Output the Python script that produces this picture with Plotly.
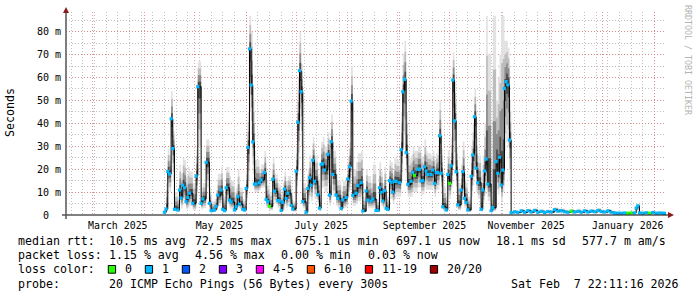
import plotly.graph_objects as go

# ---------------- data ----------------
dates = [
    # April 2025
    "2025-04-13", "2025-04-14", "2025-04-15", "2025-04-16", "2025-04-17", "2025-04-18", "2025-04-19",
    "2025-04-21", "2025-04-22", "2025-04-23", "2025-04-24", "2025-04-25", "2025-04-26", "2025-04-27",
    "2025-04-28", "2025-04-30",
    # May
    "2025-05-02", "2025-05-03", "2025-05-05", "2025-05-06", "2025-05-08", "2025-05-10", "2025-05-11",
    "2025-05-13", "2025-05-14", "2025-05-15", "2025-05-17", "2025-05-18", "2025-05-19", "2025-05-20",
    "2025-05-22", "2025-05-23", "2025-05-25", "2025-05-26", "2025-05-27", "2025-05-28", "2025-05-30",
    "2025-05-31",
    # June
    "2025-06-01", "2025-06-02", "2025-06-03", "2025-06-04", "2025-06-05", "2025-06-06", "2025-06-07",
    "2025-06-09", "2025-06-10", "2025-06-12", "2025-06-13", "2025-06-14", "2025-06-15", "2025-06-17",
    "2025-06-18", "2025-06-20", "2025-06-21", "2025-06-22", "2025-06-23", "2025-06-24", "2025-06-25",
    "2025-06-26", "2025-06-28", "2025-06-29",
    # July
    "2025-07-01", "2025-07-02", "2025-07-03", "2025-07-04", "2025-07-05", "2025-07-07", "2025-07-08",
    "2025-07-09", "2025-07-10", "2025-07-11", "2025-07-12", "2025-07-14", "2025-07-15", "2025-07-16",
    "2025-07-17", "2025-07-18", "2025-07-20", "2025-07-21", "2025-07-22", "2025-07-23", "2025-07-25",
    "2025-07-26", "2025-07-28", "2025-07-29", "2025-07-31",
    # August
    "2025-08-01", "2025-08-02", "2025-08-03", "2025-08-04", "2025-08-06", "2025-08-07", "2025-08-09",
    "2025-08-10", "2025-08-12", "2025-08-13", "2025-08-15", "2025-08-16", "2025-08-18", "2025-08-19",
    "2025-08-20", "2025-08-21", "2025-08-22", "2025-08-23", "2025-08-24", "2025-08-25", "2025-08-26",
    "2025-08-27", "2025-08-28", "2025-08-29", "2025-08-30",
    # September
    "2025-09-01", "2025-09-02", "2025-09-03", "2025-09-04", "2025-09-05", "2025-09-06", "2025-09-08",
    "2025-09-09", "2025-09-10", "2025-09-12", "2025-09-13", "2025-09-14", "2025-09-15", "2025-09-16",
    "2025-09-17", "2025-09-18", "2025-09-20", "2025-09-21", "2025-09-22", "2025-09-23", "2025-09-24",
    "2025-09-25", "2025-09-26", "2025-09-27", "2025-09-29", "2025-09-30",
    # October
    "2025-10-01", "2025-10-02", "2025-10-03", "2025-10-04", "2025-10-05", "2025-10-06", "2025-10-08",
    "2025-10-09", "2025-10-10", "2025-10-11", "2025-10-12", "2025-10-14", "2025-10-15", "2025-10-16",
    "2025-10-17", "2025-10-18", "2025-10-20", "2025-10-21", "2025-10-22", "2025-10-23", "2025-10-24",
    "2025-10-26", "2025-10-27", "2025-10-29", "2025-10-30", "2025-10-31",
    # November
    "2025-11-01", "2025-11-02", "2025-11-03", "2025-11-04", "2025-11-05", "2025-11-06", "2025-11-07",
    "2025-11-09", "2025-11-11", "2025-11-13", "2025-11-15", "2025-11-17", "2025-11-19", "2025-11-21",
    "2025-11-23", "2025-11-25", "2025-11-27", "2025-11-29",
    # December
    "2025-12-01", "2025-12-03", "2025-12-05", "2025-12-07", "2025-12-09", "2025-12-11", "2025-12-13",
    "2025-12-15", "2025-12-17", "2025-12-19", "2025-12-21", "2025-12-23", "2025-12-25", "2025-12-27",
    "2025-12-29", "2025-12-31",
    # January / February 2026
    "2026-01-02", "2026-01-04", "2026-01-06", "2026-01-08", "2026-01-10", "2026-01-12", "2026-01-14",
    "2026-01-16", "2026-01-18", "2026-01-20", "2026-01-21", "2026-01-22", "2026-01-23", "2026-01-25",
    "2026-01-27", "2026-01-29", "2026-01-31", "2026-02-02", "2026-02-04", "2026-02-06", "2026-02-07",
]

# median round-trip time, milliseconds
median_ms = [
    1.2, 2.6, 19, 17.9, 42, 29, 2.5,
    2.2, 10.9, 7.4, 13, 11.9, 5.8, 7.6,
    9.5, 5.1,
    17, 56, 5.1, 7, 23, 5.1, 1.9,
    2.2, 3.8, 8.7, 10.9, 2.5, 1.9, 11.9,
    6.5, 5.7, 2.2, 3.6, 8, 4.8, 2.5,
    2.2,
    11.6, 29.5, 72.5, 56.7, 31.9, 13.5, 13.5,
    14, 15.3, 18.5, 6.8, 5.8, 3.8, 15.6,
    10.4, 6.3, 6.2, 2.0, 5.5, 11.3, 7.2,
    9.5, 4.2, 2.6,
    19.1, 40.5, 63, 53.8, 5.8, 1.2, 11.6,
    16.2, 13, 23.9, 14.7, 8.9, 3.0, 22.1,
    22.4, 19.6, 26.5, 8.7, 32, 17.7, 8.7,
    7.3, 2.9, 6.6, 7.6,
    15.7, 21, 49.7, 8.6, 9.5, 12.8, 14.1,
    1.7, 10.5, 6.5, 6.1, 7, 2.0, 2.0,
    11.9, 9.9, 6.1, 10.6, 2.9, 2.5, 15,
    14.3, 10, 14.7, 14.7,
    14.1, 28.5, 53.8, 59.2, 27.2, 13.4, 14.7,
    18.5, 17.3, 20, 20, 14.8, 15, 21,
    19.2, 17.7, 17.7, 19.6, 13.8, 18.5, 18.5,
    34.6, 18.2, 3.6, 2.2, 17.7,
    13.8, 21.5, 58.9, 41.1, 18.9, 4.4, 10.9,
    18.9, 7.3, 5.5, 2.2, 16.9, 26.2, 42.9,
    20.4, 14.1, 2.5, 10.9, 19.2, 24.4, 13.5,
    1.9, 3.2, 23.3, 18.2, 25.2,
    13.1, 19.6, 55.2, 58.2, 56.8, 32.7, 1.0,
    1.4, 1.1, 1.8, 1.2, 1.9, 1.3, 2.0,
    1.2, 1.6, 1.1, 1.5,
    1.3, 2.3, 1.7, 1.9, 1.4, 1.2, 1.7,
    1.3, 1.6, 1.2, 1.8, 1.3, 1.7, 1.4,
    2.0, 1.5,
    1.3, 1.8, 1.2, 0.9, 0.8, 0.8, 0.9,
    0.8, 0.9, 0.9, 3.0, 4.0, 0.9, 0.8,
    1.0, 0.8, 1.1, 0.8, 0.9, 0.8, 0.7,
]

# upper edge of the smoke (slowest pings), milliseconds
smoke_hi_ms = [
    3, 14, 29, 26, 54, 37, 10,
    8, 22, 18, 25, 24, 16, 21,
    19, 14,
    29, 67, 12, 14, 33, 12, 6,
    7, 11, 18, 21, 9, 8, 21,
    17, 15, 10, 12, 20, 12, 7,
    6,
    20, 45, 87, 80, 50, 28, 24,
    20, 22, 28, 15, 13, 10, 25,
    18, 14, 13, 8, 14, 19, 15,
    17, 10, 6,
    30, 60, 80, 66, 14, 5, 20,
    26, 23, 34, 26, 18, 9, 32,
    34, 30, 36, 18, 44, 28, 18,
    15, 9, 15, 16,
    25, 32, 65, 20, 23, 27, 28,
    8, 20, 17, 14, 22, 7, 7,
    23, 19, 14, 21, 9, 8, 24,
    23, 18, 25, 24,
    22, 45, 70, 76, 45, 25, 26,
    30, 28, 30, 30, 26, 25, 33,
    28, 27, 26, 28, 24, 27, 29,
    50, 29, 12, 8, 28,
    24, 34, 71, 58, 30, 14, 22,
    32, 18, 14, 8, 30, 40, 55,
    34, 26, 9, 26, 40, 87, 70,
    8, 87, 50, 60, 70,
    87, 87, 76, 76, 73, 50, 1.6,
    2.2, 1.8, 2.6, 2.0, 2.7, 2.1, 2.9,
    2.0, 2.4, 1.9, 2.3,
    2.2, 3.4, 2.8, 2.8, 2.3, 2.0, 2.5,
    2.1, 2.5, 2.0, 2.7, 2.1, 2.6, 2.2,
    3.0, 2.4,
    2.0, 2.6, 1.9, 1.5, 1.3, 1.3, 1.4,
    1.3, 1.4, 1.4, 3.8, 4.8, 1.4, 1.3,
    1.5, 1.3, 1.6, 1.3, 1.4, 1.3, 1.2,
]

# lower edge of the smoke (fastest pings), milliseconds
smoke_lo_ms = [
    0.8, 1.5, 12, 10, 24, 15, 1.5,
    1.3, 5, 3, 6, 5, 2.5, 3,
    4, 2,
    8, 30, 2.5, 3, 12, 2, 1.2,
    1.3, 2, 4, 5, 1.5, 1.2, 5,
    3, 2.5, 1.3, 2, 4, 2.5, 1.5,
    1.3,
    6, 15, 45, 35, 18, 10, 10,
    11, 12, 12, 3, 3, 2, 8,
    5, 3, 3, 1.2, 2, 5, 3,
    4, 2, 1.4,
    10, 22, 40, 30, 3, 0.9, 5,
    8, 6, 12, 7, 4, 1.6, 12,
    12, 10, 14, 4, 16, 8, 4,
    3, 1.5, 3, 3.5,
    8, 11, 28, 4, 5, 6, 7,
    1.1, 5, 3, 3, 3, 1.2, 1.2,
    5, 4, 3, 5, 1.5, 1.4, 7,
    7, 5, 7, 8,
    8, 15, 30, 35, 15, 8, 8,
    10, 10, 12, 12, 9, 9, 12,
    11, 11, 11, 12, 8, 11, 11,
    17, 10, 2, 1.3, 8,
    7, 12, 32, 22, 10, 2, 5,
    9, 3, 2.5, 1.3, 8, 13, 22,
    10, 7, 1.4, 5, 9, 11, 6,
    1.2, 1.6, 11, 9, 12,
    6, 10, 28, 32, 30, 15, 0.7,
    0.8, 0.7, 0.9, 0.8, 1.0, 0.8, 1.0,
    0.8, 0.9, 0.7, 0.8,
    0.8, 1.1, 0.9, 1.0, 0.8, 0.8, 0.9,
    0.8, 0.9, 0.8, 0.9, 0.8, 0.9, 0.8,
    1.0, 0.8,
    0.8, 0.9, 0.8, 0.7, 0.6, 0.6, 0.7,
    0.6, 0.7, 0.7, 1.5, 2.0, 0.7, 0.6,
    0.7, 0.6, 0.7, 0.6, 0.7, 0.6, 0.6,
]

# lost pings (of 20) per step
loss_pings = [1] * len(dates)
for _d in ["2025-06-15", "2025-09-10", "2025-10-01", "2025-12-13",
           "2026-01-16", "2026-01-18", "2026-01-29"]:
    loss_pings[dates.index(_d)] = 0

assert len(dates) == len(median_ms) == len(smoke_hi_ms) == len(smoke_lo_ms)

loss_labels = ["0", "1", "2", "3", "4-5", "6-10", "11-19", "20/20"]
loss_colors = ["#26ff00", "#00b8ff", "#0059ff", "#7e00ff", "#ff00ff", "#ff5500", "#ff0000", "#a00000"]
loss_upper = [0, 1, 2, 3, 5, 10, 19, 20]

y_tick_vals = [0, 10, 20, 30, 40, 50, 60, 70, 80]
y_tick_text = ["0\u00a0\u00a0", "10 m", "20 m", "30 m", "40 m", "50 m", "60 m", "70 m", "80 m"]
month_starts = ["2025-03-01", "2025-04-01", "2025-05-01", "2025-06-01", "2025-07-01", "2025-08-01",
                "2025-09-01", "2025-10-01", "2025-11-01", "2025-12-01", "2026-01-01", "2026-02-01"]
month_label_pos = ["2025-03-16", "2025-05-16", "2025-07-16", "2025-09-16", "2025-11-16", "2026-01-16"]
month_label_text = ["March 2025", "May 2025", "July 2025", "September 2025", "November 2025", "January 2026"]

range_start = "2025-02-12 22:11:16"
range_end = "2026-02-07 22:11:16"

stats_rtt = ["10.5 ms avg", "72.5 ms max", "675.1 us min", "697.1 us now", "18.1 ms sd", "577.7 m am/s"]
stats_loss = ["1.15 % avg", "4.56 % max", "0.00 % min", "0.03 % now"]
probe_text = "20 ICMP Echo Pings (56 Bytes) every 300s"
stamp_text = "Sat Feb\u00a0 7 22:11:16 2026"

# ---------------- layout helpers ----------------
W, H = 697, 297
L, R, T, B = 66, 31, 12, 82
PW, PH = W - L - R, H - T - B
MONO = "DejaVu Sans Mono"


def px(x):
    return (x - L) / PW


def py(y):
    return (H - B - y) / PH


def color_for(n):
    for up, c in zip(loss_upper, loss_colors):
        if n <= up:
            return c
    return loss_colors[-1]


fig = go.Figure()

# smoke: bands shaded from light (outer) to dark (near median)
band_fracs = [1.0, 0.72, 0.45, 0.2]
band_colors = ["#e2e2e2", "#bdbdbd", "#8c8c8c", "#4a4a4a"]
for f, c in zip(band_fracs, band_colors):
    upper = [m + f * (h - m) for m, h in zip(median_ms, smoke_hi_ms)]
    lower = [m - f * (m - lo) for m, lo in zip(median_ms, smoke_lo_ms)]
    fig.add_trace(go.Scatter(x=dates, y=lower, mode="lines", line=dict(width=0, shape="hv"),
                             hoverinfo="skip", showlegend=False))
    fig.add_trace(go.Scatter(x=dates, y=upper, mode="lines", line=dict(width=0, shape="hv"),
                             fill="tonexty", fillcolor=c, hoverinfo="skip", showlegend=False))

# median line
fig.add_trace(go.Scatter(x=dates, y=median_ms, mode="lines",
                         line=dict(color="#000000", width=1, shape="hv"),
                         showlegend=False, name="median rtt"))
# loss-coloured median marks
fig.add_trace(go.Scatter(x=dates, y=median_ms, mode="markers",
                         marker=dict(symbol="square", size=3.2,
                                     color=[color_for(n) for n in loss_pings], line=dict(width=0)),
                         showlegend=False, hoverinfo="skip"))
# carrier for the month-label axis
fig.add_trace(go.Scatter(x=dates, y=median_ms, mode="lines", line=dict(width=0), opacity=0,
                         xaxis="x2", hoverinfo="skip", showlegend=False))

red_grid = "rgba(222,120,120,0.75)"
gray_grid = "rgba(175,175,175,0.8)"
dots = "1px,2px"

fig.update_layout(
    width=W, height=H,
    margin=dict(l=L, r=R, t=T, b=B, pad=0),
    paper_bgcolor="white", plot_bgcolor="white",
    showlegend=False,
    font=dict(family=MONO, color="black"),
    xaxis=dict(type="date", range=[range_start, range_end], tickmode="array", tickvals=month_starts,
               showticklabels=False, ticks="", showgrid=True, gridcolor=red_grid, griddash=dots,
               gridwidth=1, zeroline=False, showline=False,
               minor=dict(tick0="2025-02-16", dtick=7 * 86400000, showgrid=True,
                          gridcolor=gray_grid, griddash=dots, gridwidth=1)),
    xaxis2=dict(type="date", overlaying="x", anchor="y", side="bottom", range=[range_start, range_end],
                tickmode="array", tickvals=month_label_pos, ticktext=month_label_text, ticks="",
                showgrid=False, zeroline=False, showline=False, ticklabelstandoff=3,
                tickfont=dict(family=MONO, size=9.9, color="black")),
    yaxis=dict(range=[0, 88.6], tickmode="array", tickvals=y_tick_vals, ticktext=y_tick_text,
               ticks="", showgrid=True, gridcolor=red_grid, griddash=dots, gridwidth=1,
               zeroline=False, showline=False, ticklabelstandoff=4,
               tickfont=dict(family=MONO, size=10, color="black"),
               minor=dict(dtick=5, tick0=0, showgrid=True, gridcolor=gray_grid,
                          griddash=dots, gridwidth=1)),
)

shapes = []
# axes
shapes.append(dict(type="line", xref="paper", yref="paper", x0=px(62), x1=px(670), y0=py(215), y1=py(215),
                   line=dict(color="#000000", width=1)))
shapes.append(dict(type="line", xref="paper", yref="paper", x0=px(66), x1=px(66), y0=py(219), y1=py(9),
                   line=dict(color="#555555", width=1.5)))
# arrows
shapes.append(dict(type="path", xref="paper", yref="paper",
                   path=f"M {px(668)} {py(212)} L {px(674)} {py(215)} L {px(668)} {py(218)} Z",
                   fillcolor="#8b1a1a", line=dict(width=0)))
shapes.append(dict(type="path", xref="paper", yref="paper",
                   path=f"M {px(63)} {py(13)} L {px(66)} {py(7)} L {px(69)} {py(13)} Z",
                   fillcolor="#8b1a1a", line=dict(width=0)))

annotations = []


def text(x, y, s, anchor="left", size=11.6, color="black", angle=0):
    annotations.append(dict(x=px(x), y=py(y), xref="paper", yref="paper", text=s, showarrow=False,
                            xanchor=anchor, yanchor="middle", textangle=angle,
                            font=dict(family=MONO, size=size, color=color)))


# axis title and watermark
text(10, 113, "Seconds", anchor="center", angle=-90)
text(688, 60, "RRDTOOL / TOBI OETIKER", anchor="center", size=8.3, color="#b4b4b4", angle=90)

# legend rows
row_y = [241.3, 255.3, 269.3, 283.7]
text(16, row_y[0], "median rtt:")
for s, x in zip(stats_rtt, [107.3, 192.7, 293.3, 393.6, 494.0, 579.6]):
    text(x, row_y[0], s)
text(16, row_y[1], "packet loss:")
for s, x in zip(stats_loss, [107.3, 193.0, 279.3, 365.5]):
    text(x, row_y[1], s)
text(16, row_y[2], "loss color:")
bx = 108.3
for lab, col in zip(loss_labels, loss_colors):
    shapes.append(dict(type="rect", xref="paper", yref="paper", x0=px(bx), x1=px(bx + 7.3),
                       y0=py(273.2), y1=py(265.5), fillcolor=col, line=dict(color="black", width=1)))
    text(bx + 14.7, row_y[2], lab)
    bx += 30 + 7 * len(lab)
text(16, row_y[3], "probe:")
text(107.3, row_y[3], probe_text)
text(681.3, row_y[3], stamp_text, anchor="right")

fig.update_layout(shapes=shapes, annotations=annotations)
fig.write_html("out.html")
